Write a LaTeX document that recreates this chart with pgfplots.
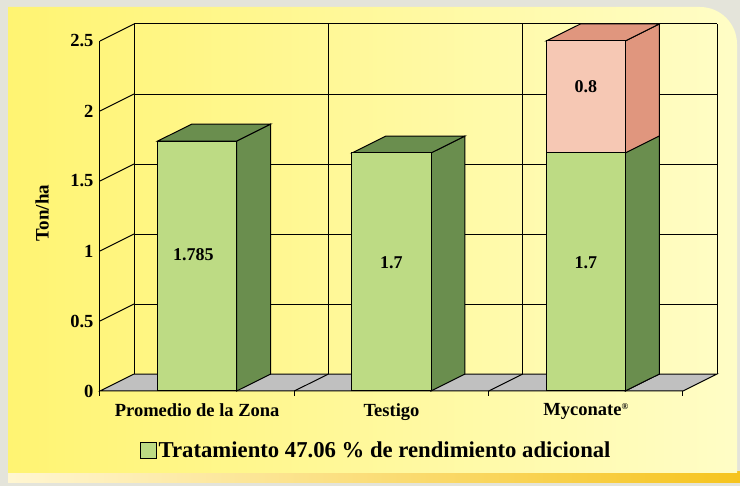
\documentclass[border=0pt]{standalone}
\usepackage{pgfplots}
\pgfplotsset{compat=1.18}
\usepackage{fontspec}
\setmainfont{Liberation Serif}
\definecolor{outergray}{HTML}{E4E4DA}
\definecolor{panelL}{HTML}{FFF472}
\definecolor{panelR}{HTML}{FFFDC6}
\definecolor{goldL}{HTML}{FFF6D2}
\definecolor{goldR}{HTML}{F6C41E}
\definecolor{barfront}{HTML}{BDDB84}
\definecolor{barside}{HTML}{6A8E4E}
\definecolor{pinkfront}{HTML}{F6C8B4}
\definecolor{pinkside}{HTML}{E0967E}
\definecolor{floorgray}{HTML}{C0C0C0}
\begin{document}
\begin{tikzpicture}
% background
\fill[outergray] (0pt,0pt) rectangle (740pt,-486pt);
\shade[left color=goldL, right color=goldR] (8pt,-472pt) rectangle (740pt,-483pt);
\shade[left color=panelL, right color=panelR] (8pt,-473pt) -- (8pt,-7pt) -- (700pt,-7pt) arc[start angle=90,end angle=0,radius=37pt] -- (737pt,-473pt) -- cycle;
\begin{axis}[
  at={(100pt,-391pt)}, anchor=south west,
  scale only axis, width=617pt, height=367pt,
  xmin=-0.5, xmax=2.675, ymin=0, ymax=2.621,
  clip=false,
  axis line style={draw=none},
  major tick length=0pt,
  xtick={0,1,2},
  xticklabels={Promedio de la Zona, Testigo, Myconate{\fontsize{9}{9}\selectfont\raisebox{6pt}{®}}},
  ytick={0,0.5,1,1.5,2,2.5},
  yticklabels={0,0.5,1,1.5,2,2.5},
  ticklabel style={font=\fontsize{18.5}{20}\selectfont\bfseries},
  xticklabel style={yshift=-9pt},
  yticklabel style={xshift=-3pt},
  ylabel={Ton/ha},
  ylabel style={font=\fontsize{19}{21}\selectfont\bfseries, at={(axis description cs:-0.094,0.485)}, anchor=center},
  legend style={at={(axis description cs:0.4475,-0.163)}, anchor=center, draw=none, fill=none,
    font=\fontsize{22.7}{24}\selectfont\bfseries},
]
% floor
\addplot[fill=floorgray, draw=black, line width=1pt, forget plot] coordinates {(-0.5,0) (2.5,0) (2.675,0.121) (-0.325,0.121)} -- cycle;
\addplot[black, line width=1pt, forget plot] coordinates {(0.5,0) (0.675,0.121)};
\addplot[black, line width=1pt, forget plot] coordinates {(1.5,0) (1.675,0.121)};
% back wall horizontal grid
\addplot[black, line width=1pt, forget plot] coordinates {(-0.325,0.621) (2.675,0.621)};
\addplot[black, line width=1pt, forget plot] coordinates {(-0.325,1.121) (2.675,1.121)};
\addplot[black, line width=1pt, forget plot] coordinates {(-0.325,1.621) (2.675,1.621)};
\addplot[black, line width=1pt, forget plot] coordinates {(-0.325,2.121) (2.675,2.121)};
\addplot[black, line width=1pt, forget plot] coordinates {(-0.325,2.621) (2.675,2.621)};
% back wall vertical lines
\addplot[black, line width=1pt, forget plot] coordinates {(-0.325,0.121) (-0.325,2.621)};
\addplot[black, line width=1pt, forget plot] coordinates {(0.675,0.121) (0.675,2.621)};
\addplot[black, line width=1pt, forget plot] coordinates {(1.675,0.121) (1.675,2.621)};
\addplot[black, line width=1pt, forget plot] coordinates {(2.675,0.121) (2.675,2.621)};
% left wall: front axis and diagonals
\addplot[black, line width=1pt, forget plot] coordinates {(-0.5,0) (-0.5,2.5)};
\addplot[black, line width=1pt, forget plot] coordinates {(-0.5,0.5) (-0.325,0.621)};
\addplot[black, line width=1pt, forget plot] coordinates {(-0.5,1) (-0.325,1.121)};
\addplot[black, line width=1pt, forget plot] coordinates {(-0.5,1.5) (-0.325,1.621)};
\addplot[black, line width=1pt, forget plot] coordinates {(-0.5,2) (-0.325,2.121)};
\addplot[black, line width=1pt, forget plot] coordinates {(-0.5,2.5) (-0.325,2.621)};
% front x axis tick marks
\addplot[black, line width=1pt, forget plot] coordinates {(-0.5,0) (-0.5,-0.036)};
\addplot[black, line width=1pt, forget plot] coordinates {(0.5,0) (0.5,-0.036)};
\addplot[black, line width=1pt, forget plot] coordinates {(1.5,0) (1.5,-0.036)};
\addplot[black, line width=1pt, forget plot] coordinates {(2.5,0) (2.5,-0.036)};
% bar 3 pink part (drawn first, full height)
\addplot[fill=pinkside, draw=black, line width=1pt, forget plot] coordinates {(2.203,0) (2.378,0.121) (2.378,2.621) (2.203,2.5)} -- cycle;
\addplot[fill=pinkside, draw=black, line width=1pt, forget plot] coordinates {(1.797,2.5) (1.972,2.621) (2.378,2.621) (2.203,2.5)} -- cycle;
\addplot[ybar, bar width=0.4066, bar shift=0pt, fill=pinkfront, draw=black, line width=1pt, forget plot] coordinates {(2,2.5)};
% green side and top faces
\addplot[fill=barside, draw=black, line width=1pt, forget plot] coordinates {(0.203,0) (0.378,0.121) (0.378,1.906) (0.203,1.785)} -- cycle;
\addplot[fill=barside, draw=black, line width=1pt, forget plot] coordinates {(-0.203,1.785) (-0.028,1.906) (0.378,1.906) (0.203,1.785)} -- cycle;
\addplot[fill=barside, draw=black, line width=1pt, forget plot] coordinates {(1.203,0) (1.378,0.121) (1.378,1.821) (1.203,1.7)} -- cycle;
\addplot[fill=barside, draw=black, line width=1pt, forget plot] coordinates {(0.797,1.7) (0.972,1.821) (1.378,1.821) (1.203,1.7)} -- cycle;
\addplot[fill=barside, draw=black, line width=1pt, forget plot] coordinates {(2.203,0) (2.378,0.121) (2.378,1.821) (2.203,1.7)} -- cycle;
% green front faces
\addplot[ybar, bar width=0.4066, bar shift=0pt, fill=barfront, draw=black, line width=1pt,
  legend image code/.code={\draw[fill=barfront, draw=black, line width=1pt] (0pt,-8pt) rectangle (16pt,8pt);}]
  coordinates {(0,1.785) (1,1.7) (2,1.7)};
\addlegendentry{Tratamiento 47.06 \% de rendimiento adicional}
% value labels
\addplot[draw=none, mark=none, forget plot, nodes near coords, point meta=explicit symbolic,
  nodes near coords align=center,
  every node near coord/.append style={font=\fontsize{18}{20}\selectfont\bfseries, black}]
  coordinates {(-0.02,0.971)[1.785] (1,0.914)[1.7] (2,0.914)[1.7] (2,2.171)[0.8]};
\end{axis}
\end{tikzpicture}
\end{document}
